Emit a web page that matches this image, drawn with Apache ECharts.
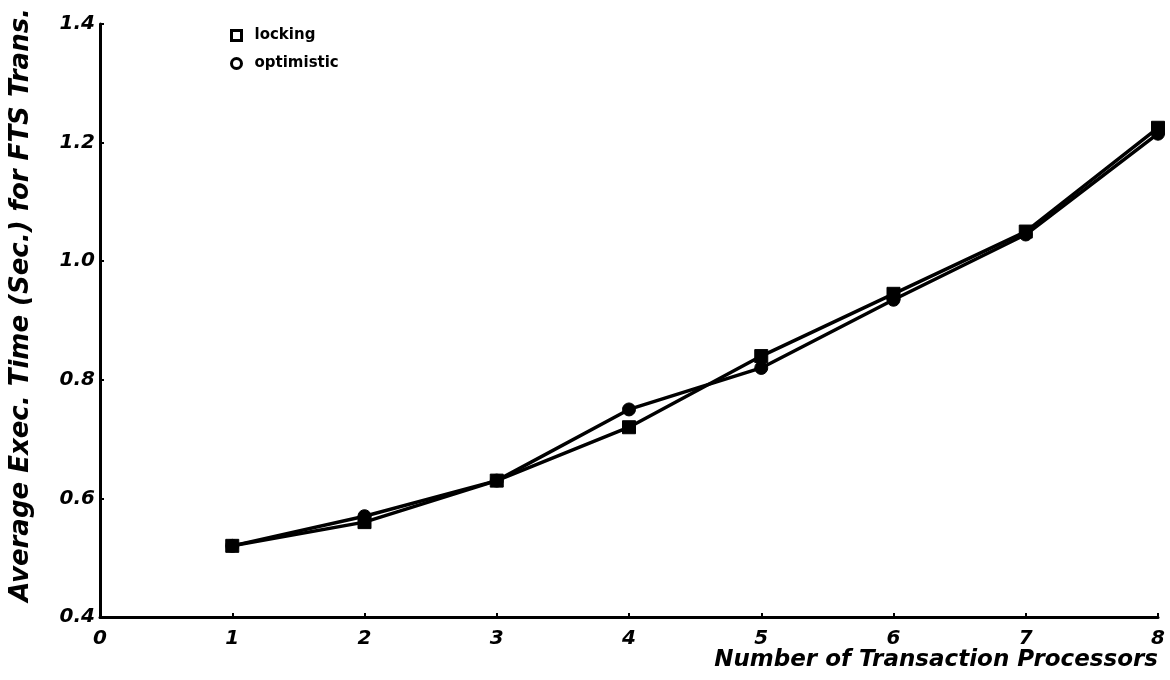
<!DOCTYPE html>
<html>
<head>
<meta charset="utf-8">
<script src="https://cdn.jsdelivr.net/npm/echarts@6/dist/echarts.min.js"></script>
<style>
  html, body { margin: 0; padding: 0; background: #fff; }
  #chart { width: 1170px; height: 680px; }
</style>
</head>
<body>
<div id="chart"></div>
<script>
// Average execution time per FTS transaction vs. number of transaction processors
const processors = [1, 2, 3, 4, 5, 6, 7, 8];
const locking    = [0.52, 0.56, 0.63, 0.72, 0.84, 0.945, 1.05, 1.225];
const optimistic = [0.52, 0.57, 0.63, 0.75, 0.82, 0.935, 1.045, 1.215];
const seriesNames = ['locking', 'optimistic'];

const FONT = '"DejaVu Sans", "Liberation Sans", sans-serif';
const ink = '#000';

const chart = echarts.init(document.getElementById('chart'));

function pairs(vals) {
  return processors.map((p, i) => [p, vals[i]]);
}

const tickLabel = {
  color: ink,
  fontFamily: FONT,
  fontWeight: 'bold',
  fontStyle: 'italic',
  fontSize: 20
};

chart.setOption({
  backgroundColor: '#fff',
  animation: false,
  grid: { left: 100, right: 12, top: 24, bottom: 63, containLabel: false },
  legend: {
    orient: 'vertical',
    left: 225,
    top: 23,
    itemWidth: 10,
    itemHeight: 10,
    itemGap: 13,
    textStyle: {
      color: ink, fontFamily: FONT, fontWeight: 'bold', fontSize: 15,
      padding: [0, 0, 0, 8]
    },
    data: [
      { name: seriesNames[0], icon: 'rect', itemStyle: { color: '#fff', borderColor: ink, borderWidth: 3 } },
      { name: seriesNames[1], icon: 'circle', itemStyle: { color: '#fff', borderColor: ink, borderWidth: 3 } }
    ]
  },
  xAxis: {
    type: 'value',
    min: 0,
    max: 8,
    interval: 1,
    name: 'Number of Transaction Processors',
    nameLocation: 'end',
    nameGap: 0,
    nameTextStyle: {
      color: ink, fontFamily: FONT, fontWeight: 'bold', fontStyle: 'italic', fontSize: 23,
      align: 'right', verticalAlign: 'top', padding: [32, 0, 0, 0]
    },
    axisLine: { onZero: false, lineStyle: { color: ink, width: 3 } },
    axisTick: { inside: true, length: 4, lineStyle: { color: ink, width: 2 } },
    axisLabel: Object.assign({ margin: 12 }, tickLabel),
    splitLine: { show: false }
  },
  yAxis: {
    type: 'value',
    min: 0.4,
    max: 1.4,
    interval: 0.2,
    name: 'Average Exec. Time (Sec.) for FTS Trans.',
    nameLocation: 'end',
    nameRotate: 90,
    nameGap: 16,
    nameTextStyle: {
      color: ink, fontFamily: FONT, fontWeight: 'bold', fontStyle: 'italic', fontSize: 26,
      align: 'right', verticalAlign: 'bottom', padding: [0, 0, 66, 0]
    },
    axisLine: { onZero: false, lineStyle: { color: ink, width: 3 } },
    axisTick: { inside: true, length: 4, lineStyle: { color: ink, width: 2 } },
    axisLabel: Object.assign({ margin: 5, formatter: v => v.toFixed(1) }, tickLabel),
    splitLine: { show: false }
  },
  series: [
    {
      name: seriesNames[0],
      type: 'line',
      data: pairs(locking),
      symbol: 'rect',
      symbolSize: 13,
      lineStyle: { color: ink, width: 3.5 },
      itemStyle: { color: ink, borderColor: ink, borderWidth: 1 },
      z: 3
    },
    {
      name: seriesNames[1],
      type: 'line',
      data: pairs(optimistic),
      symbol: 'circle',
      symbolSize: 13,
      lineStyle: { color: ink, width: 3.5 },
      itemStyle: { color: ink, borderColor: ink, borderWidth: 1 },
      z: 2
    }
  ]
});
</script>
</body>
</html>
